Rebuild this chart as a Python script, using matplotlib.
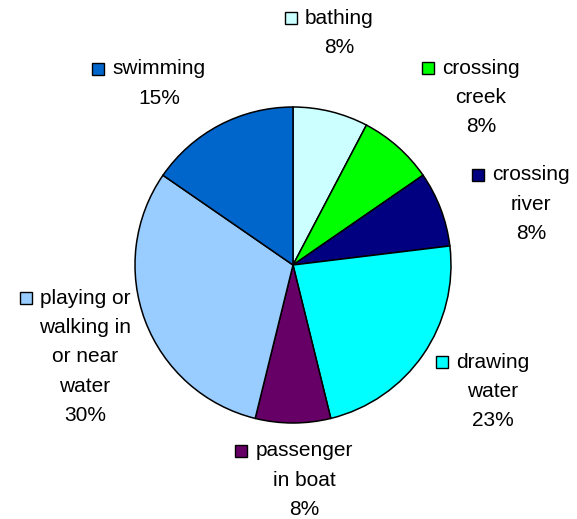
import matplotlib
matplotlib.use("Agg")
import matplotlib.pyplot as plt
from matplotlib.patches import Rectangle

categories = ["bathing", "crossing\ncreek", "crossing\nriver", "drawing\nwater",
              "passenger\nin boat", "playing or\nwalking in\nor near\nwater", "swimming"]
# slice sizes
values = [1, 1, 1, 3, 1, 4, 2]
# percentage labels as printed in the chart
pct_labels = ["8%", "8%", "8%", "23%", "8%", "30%", "15%"]
colors = ["#CCFFFF", "#00FF00", "#000080", "#00FFFF", "#660066", "#99CCFF", "#0066CC"]

# label layout (pixel positions: centre x, first-line centre y)
label_pos = [(339, 18), (481, 68), (531, 175), (493, 362), (304, 451), (85, 298), (159, 69)]

W, H = 577, 519
CX, CY, R = 293, 265, 158
LINE = 29.4

plt.rcParams['font.family'] = ['Liberation Sans', 'DejaVu Sans']

fig = plt.figure(figsize=(W / 100, H / 100), dpi=100)
ax = fig.add_axes([0, 0, 1, 1])
ax.pie(values, colors=colors, startangle=90, counterclock=False, radius=1, center=(0, 0),
       wedgeprops=dict(edgecolor='black', linewidth=1.1))
ax.set_aspect('auto')
ax.set_xlim(-CX / R, (W - CX) / R)
ax.set_ylim(-(H - CY) / R, CY / R)
ax.axis('off')

renderer = fig.canvas.get_renderer()
for cat, pl, col, (px, py) in zip(categories, pct_labels, colors, label_pos):
    lines = cat.split("\n") + [pl]
    first = None
    for i, ln in enumerate(lines):
        t = fig.text(px / W, 1 - (py + i * LINE) / H, ln, ha='center', va='center',
                     fontsize=15, color='black')
        if i == 0:
            first = t
    bb = first.get_window_extent(renderer)
    size = 12
    x0 = bb.x0 - 8 - size
    yc = H - py
    fig.add_artist(Rectangle((x0 / W, (yc - size / 2) / H), size / W, size / H,
                             transform=fig.transFigure, facecolor=col,
                             edgecolor='black', linewidth=1.0))

fig.savefig("out.png", dpi=100)
